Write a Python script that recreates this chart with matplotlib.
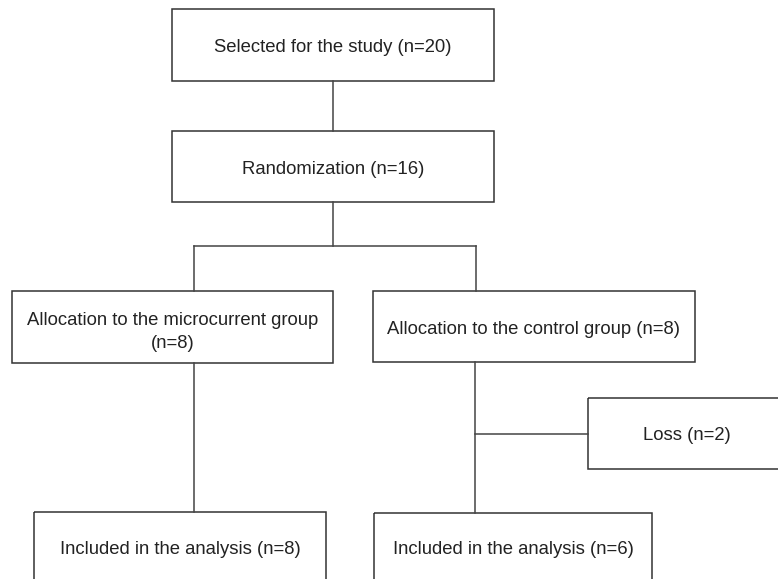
import matplotlib.pyplot as plt
from matplotlib.patches import Rectangle

# box labels and pixel layout (x0, y0, x1, y1) in image coordinates
labels = [
    'Selected for the study (n=20)',
    'Randomization (n=16)',
    'Allocation to the microcurrent group\n(n=8)',
    'Allocation to the control group (n=8)',
    'Loss (n=2)',
    'Included in the analysis (n=8)',
    'Included in the analysis (n=6)',
]
boxes = [
    (172, 9, 494, 81),
    (172, 131, 494, 202),
    (12, 291, 333, 363),
    (373, 291, 695, 362),
    (588, 398, 790, 469),
    (34, 512, 326, 590),
    (374, 513, 652, 590),
]
text_pos = [
    (333, 48),
    (333, 169),
    (173, 332),
    (534, 329),
    (687, 436),
    (180, 550),
    (513, 550),
]
# connector segments
lines = [
    ((333, 333), (81, 131)),
    ((333, 333), (202, 246)),
    ((194, 476), (246, 246)),
    ((194, 194), (246, 291)),
    ((476, 476), (246, 291)),
    ((194, 194), (363, 512)),
    ((475, 475), (362, 513)),
    ((475, 588), (434, 434)),
]

plt.rcParams['font.family'] = ['Liberation Sans', 'DejaVu Sans']

fig = plt.figure(figsize=(7.78, 5.79), dpi=100)
ax = fig.add_axes([0, 0, 1, 1])
ax.set_xlim(0, 778)
ax.set_ylim(579, 0)
ax.axis('off')

for (x0, y0, x1, y1) in boxes:
    ax.add_patch(Rectangle((x0, y0), x1 - x0, y1 - y0, fill=False,
                           edgecolor='#333333', linewidth=1.1))

for xs, ys in lines:
    ax.plot(xs, ys, color='#444444', linewidth=1.1)

for lab, (x, y) in zip(labels, text_pos):
    ax.text(x, y, lab, ha='center', va='center', fontsize=13.3,
            color='#222222', linespacing=1.4)

fig.savefig('out.png', dpi=100)
